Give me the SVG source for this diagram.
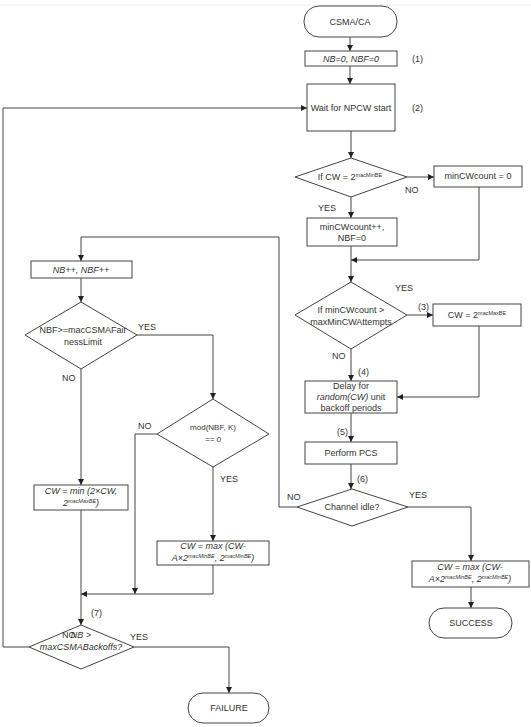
<svg xmlns="http://www.w3.org/2000/svg" width="531" height="727" viewBox="0 0 531 727">
<style>
.b{fill:#fff;stroke:#444;stroke-width:1}
.c{fill:none;stroke:#444;stroke-width:1;marker-end:url(#ah)}
.n{fill:none;stroke:#444;stroke-width:1}
text{font-family:"Liberation Sans",Arial,sans-serif;font-size:9px;fill:#333}
.m{text-anchor:middle}
.i{font-style:italic}
.s{font-size:5.5px}
.k{font-size:8px}
</style>
<defs>
<marker id="ah" markerUnits="userSpaceOnUse" markerWidth="7" markerHeight="6" refX="6" refY="3" orient="auto">
<path d="M0,0 L6,3 L0,6 z" fill="#222"/>
</marker>
</defs>
<rect width="531" height="727" fill="#fff"/>
<line x1="0" y1="5" x2="531" y2="5" stroke="#eee" stroke-width="1"/>
<g id="connectors">
<path class="c" d="M350,37 V51"/>
<path class="c" d="M350,66 V84"/>
<path class="c" d="M351,131 V158"/>
<path class="c" d="M407,177 H434"/>
<path class="c" d="M351,197 V218"/>
<path class="c" d="M479,187 V260 H351"/>
<path class="c" d="M351,246 V282"/>
<path class="c" d="M407,315 H433"/>
<path class="c" d="M479,326 V397 H397"/>
<path class="c" d="M351,349 V381"/>
<path class="c" d="M351,413 V442"/>
<path class="c" d="M351,464 V489"/>
<path class="c" d="M297,507 H279 V237 H81 V261"/>
<path class="c" d="M408,507 H471 V561"/>
<path class="c" d="M471,587 V608"/>
<path class="c" d="M81,278 V302"/>
<path class="c" d="M137,335 H213 V399"/>
<path class="c" d="M81,369 V485"/>
<path class="c" d="M157,434 H135 V594"/>
<path class="c" d="M213,467 V541"/>
<path class="c" d="M213,565 V594 H81"/>
<path class="c" d="M81,510 V625"/>
<path class="c" d="M29,647 H3 V108 H307"/>
<path class="c" d="M134,647 H229 V693"/>
</g>
<g id="start">
<rect class="b" x="304" y="6" width="93" height="31" rx="15"/>
<text class="m" x="350" y="25">CSMA/CA</text>
</g>
<g id="init">
<rect class="b" x="305" y="51" width="92" height="15"/>
<text class="m i" x="351" y="62">NB=0, NBF=0</text>
<text x="412" y="62">(1)</text>
</g>
<g id="wait">
<rect class="b" x="307" y="84" width="88" height="47"/>
<text class="m" x="351" y="111">Wait for NPCW start</text>
<text x="412" y="111">(2)</text>
</g>
<g id="d1">
<polygon class="b" points="351,158 407,177 351,197 295,177"/>
<text class="m" x="350" y="180">If CW = 2<tspan class="s" dy="-3.5">macMinBE</tspan></text>
<text x="405" y="193">NO</text>
<text x="318" y="211">YES</text>
</g>
<g id="mincw0">
<rect class="b" x="434" y="166" width="88" height="21"/>
<text class="m" x="478" y="179">minCWcount = 0</text>
</g>
<g id="mincwinc">
<rect class="b" x="307" y="218" width="90" height="28"/>
<text class="m" x="352" y="230">minCWcount++,</text>
<text class="m" x="352" y="241">NBF=0</text>
</g>
<g id="d2">
<polygon class="b" points="351,282 407,315 351,349 295,315"/>
<text class="m" x="351" y="313">If minCWcount &gt;</text>
<text class="m" x="351" y="325">maxMinCWAttempts</text>
<text x="395" y="291">YES</text>
<text x="418" y="310">(3)</text>
<text x="332" y="359">NO</text>
<text x="358" y="375">(4)</text>
</g>
<g id="cwmax">
<rect class="b" x="433" y="304" width="88" height="22"/>
<text class="m" x="477" y="318">CW = 2<tspan class="s" dy="-3.5">macMaxBE</tspan></text>
</g>
<g id="delay">
<rect class="b" x="305" y="381" width="92" height="32"/>
<text class="m" x="351" y="389">Delay for</text>
<text class="m" x="351" y="400"><tspan class="i">random(CW)</tspan> unit</text>
<text class="m" x="351" y="411">backoff periods</text>
<text x="337" y="435">(5)</text>
</g>
<g id="pcs">
<rect class="b" x="305" y="442" width="92" height="22"/>
<text class="m" x="351" y="456">Perform PCS</text>
<text x="357" y="482">(6)</text>
</g>
<g id="d3">
<polygon class="b" points="352,489 408,507 352,526 297,507"/>
<text class="m" x="352" y="510">Channel idle?</text>
<text x="287" y="500">NO</text>
<text x="409" y="498">YES</text>
</g>
<g id="cwmaxr">
<rect class="b" x="412" y="561" width="117" height="26"/>
<text class="m i" x="470" y="570">CW = max (CW-</text>
<text class="m i" x="470" y="582">A×2<tspan class="s" dy="-3.5">macMinBE</tspan><tspan dy="3.5">, 2</tspan><tspan class="s" dy="-3.5">macMinBE</tspan><tspan dy="3.5">)</tspan></text>
</g>
<g id="success">
<rect class="b" x="429" y="608" width="83" height="30" rx="15"/>
<text class="m" x="471" y="626">SUCCESS</text>
</g>
<g id="nbinc">
<rect class="b" x="31" y="261" width="101" height="17"/>
<text class="m i" x="81" y="273">NB++, NBF++</text>
</g>
<g id="d4">
<polygon class="b" points="81,302 137,335 81,369 25,335"/>
<text class="m" x="83" y="333">NBF&gt;=macCSMAFair</text>
<text class="m" x="83" y="345">nessLimit</text>
<text x="138" y="330">YES</text>
<text x="62" y="381">NO</text>
</g>
<g id="d5">
<polygon class="b" points="213,399 269,434 213,467 157,434"/>
<text class="m k" x="213" y="430">mod(NBF, K)</text>
<text class="m k i" x="213" y="442">== 0</text>
<text x="138" y="429">NO</text>
<text x="220" y="482">YES</text>
</g>
<g id="cwmin">
<rect class="b" x="34" y="485" width="94" height="25"/>
<text class="m i" x="81" y="494">CW = min (2×CW,</text>
<text class="m i" x="81" y="506">2<tspan class="s" dy="-3.5">macMaxBE</tspan><tspan dy="3.5">)</tspan></text>
</g>
<g id="cwmaxl">
<rect class="b" x="157" y="541" width="112" height="24"/>
<text class="m i" x="213" y="549">CW = max (CW-</text>
<text class="m i" x="213" y="561">A×2<tspan class="s" dy="-3.5">macMinBE</tspan><tspan dy="3.5">, 2</tspan><tspan class="s" dy="-3.5">macMinBE</tspan><tspan dy="3.5">)</tspan></text>
</g>
<g id="d6">
<polygon class="b" points="81,625 134,647 81,669 29,647"/>
<text x="91" y="616">(7)</text>
<text class="m" x="81" y="638"><tspan class="i">NB</tspan> &gt;</text>
<text class="m i" x="81" y="650">maxCSMABackoffs?</text>
<text x="62" y="638">NO</text>
<text x="130" y="640">YES</text>
</g>
<g id="failure">
<rect class="b" x="188" y="693" width="81" height="30" rx="15"/>
<text class="m" x="229" y="711">FAILURE</text>
</g>
</svg>
